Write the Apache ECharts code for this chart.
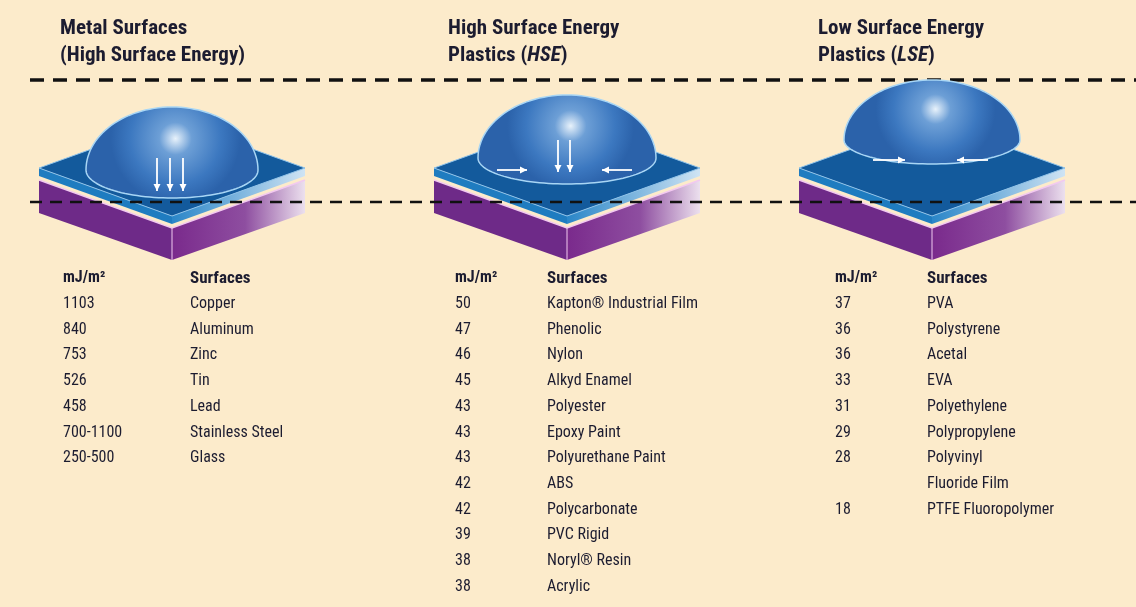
<!DOCTYPE html>
<html><head><meta charset="utf-8">
<script src="https://cdn.jsdelivr.net/npm/echarts@6/dist/echarts.min.js"></script>
<style>html,body{margin:0;padding:0;background:#fcebcb}#c{width:1136px;height:607px}</style>
</head><body><div id="c"></div>
<script>
const titles = [["Metal Surfaces","(High Surface Energy)"],["High Surface Energy","Plastics (HSE)"],["Low Surface Energy","Plastics (LSE)"]];
const metalValues = ["1103","840","753","526","458","700-1100","250-500"];
const metalSurfaces = ["Copper","Aluminum","Zinc","Tin","Lead","Stainless Steel","Glass"];
const hseValues = ["50","47","46","45","43","43","43","42","42","39","38","38"];
const hseSurfaces = ["Kapton® Industrial Film","Phenolic","Nylon","Alkyd Enamel","Polyester","Epoxy Paint","Polyurethane Paint","ABS","Polycarbonate","PVC Rigid","Noryl® Resin","Acrylic"];
const lseValues = ["37","36","36","33","31","29","28","","18"];
const lseSurfaces = ["PVA","Polystyrene","Acetal","EVA","Polyethylene","Polypropylene","Polyvinyl","Fluoride Film","PTFE Fluoropolymer"];

const F = "'Liberation Sans Narrow','Roboto Condensed','Liberation Sans',sans-serif";
const ink = '#1c1c30';
const g = [];
g.push({type:'line',shape:{x1:30,y1:80,x2:1136,y2:80},style:{stroke:'#111',lineWidth:3.5,lineDash:[14,9]}});
const panels = [
 {cx:172, tx:60, vx:63, sx:190, vals:metalValues, surf:metalSurfaces, domeRx:86, domeTop:107, baseY:170, baseRy:28},
 {cx:567, tx:448, vx:455, sx:547, vals:hseValues, surf:hseSurfaces, domeRx:89, domeTop:95, baseY:158, baseRy:26},
 {cx:932, tx:818, vx:835, sx:927, vals:lseValues, surf:lseSurfaces, domeRx:88, domeTop:80, baseY:140, baseRy:24}
];
panels.forEach((p,i)=>{
  const c=p.cx, L=c-133, R=c+133;
  g.push({type:'polygon',shape:{points:[[L,180],[c,228],[c,260],[L,213]]},style:{fill:'#6e2a88'}});
  g.push({type:'polygon',shape:{points:[[c,228],[R,180],[R,213],[c,260]]},style:{fill:{type:'linear',x:0,y:0,x2:1,y2:0,colorStops:[{offset:0,color:'#7a2a8c'},{offset:0.55,color:'#8e4ea0'},{offset:1,color:'#ece0ee'}]}}});
  g.push({type:'polyline',shape:{points:[[L,180],[c,228],[R,180]]},style:{stroke:'#f2c9f0',lineWidth:1.5,fill:null}});
  g.push({type:'line',shape:{x1:c,y1:228,x2:c,y2:260},style:{stroke:'#f2c9f0',lineWidth:1}});
  g.push({type:'polygon',shape:{points:[[L,168],[c,216],[c,224],[L,176]]},style:{fill:'#1f7cc0'}});
  g.push({type:'polygon',shape:{points:[[c,216],[R,168],[R,176],[c,224]]},style:{fill:{type:'linear',x:0,y:0,x2:1,y2:0,colorStops:[{offset:0,color:'#2a86c8'},{offset:1,color:'#cfe4f4'}]}}});
  g.push({type:'polygon',shape:{points:[[L,168],[c,120],[R,168],[c,216]]},style:{fill:'#135a9c',stroke:'#8fc3ea',lineWidth:1}});
  const rx=p.domeRx, by=p.baseY, up=by-p.domeTop, ry=p.baseRy;
  const pts=[];
  for(let k=0;k<=180;k+=3){const t=Math.PI*k/180; pts.push([c-rx*Math.cos(t), by-up*Math.sin(t)]);}
  for(let k=3;k<180;k+=3){const t=Math.PI*k/180; pts.push([c+rx*Math.cos(t), by+ry*Math.sin(t)]);}
  g.push({type:'polygon',shape:{points:pts},style:{fill:{type:'radial',x:0.52,y:0.35,r:0.7,colorStops:[{offset:0,color:'#e8f2fb'},{offset:0.25,color:'#6d9fd6'},{offset:0.7,color:'#3c78c0'},{offset:1,color:'#2b62aa'}]},stroke:'#a8d6f5',lineWidth:1.5}});
  g.push({type:'text',x:p.tx,y:18,style:{text:titles[i][0],font:`bold 21px ${F}`,fill:ink}});
  if(i===0){
    g.push({type:'text',x:p.tx,y:45,style:{text:titles[i][1],font:`bold 21px ${F}`,fill:ink}});
  } else {
    const t=i===1?'HSE':'LSE';
    g.push({type:'text',x:p.tx,y:45,style:{text:`{b|Plastics (}{i|${t}}{b|)}`,rich:{b:{fontFamily:F,fontWeight:'bold',fontSize:21,fill:ink},i:{fontFamily:F,fontWeight:'bold',fontStyle:'italic',fontSize:21,fill:ink}},fill:ink}});
  }
  g.push({type:'text',x:p.vx,y:270,style:{text:'mJ/m²',font:`bold 16px ${F}`,fill:ink}});
  g.push({type:'text',x:p.sx,y:270,style:{text:'Surfaces',font:`bold 17px ${F}`,fill:ink}});
  p.vals.forEach((v,k)=>{
    const y=296+k*25.7;
    g.push({type:'text',x:p.vx,y:y,style:{text:v,font:`16px ${F}`,fill:ink}});
    g.push({type:'text',x:p.sx,y:y,style:{text:p.surf[k],font:`16px ${F}`,fill:ink}});
  });
});
function arrow(x1,y1,x2,y2){
  const a=Math.atan2(y2-y1,x2-x1), h=7;
  g.push({type:'line',shape:{x1,y1,x2,y2},style:{stroke:'#fff',lineWidth:1.8}});
  g.push({type:'polygon',shape:{points:[[x2,y2],[x2-h*Math.cos(a)+3.5*Math.sin(a),y2-h*Math.sin(a)-3.5*Math.cos(a)],[x2-h*Math.cos(a)-3.5*Math.sin(a),y2-h*Math.sin(a)+3.5*Math.cos(a)]]},style:{fill:'#fff'}});
}
[157,170,183].forEach(x=>arrow(x,158,x,191));
[558,570].forEach(x=>arrow(x,140,x,172));
arrow(497,170,527,170); arrow(632,170,602,170);
arrow(873,160,905,160); arrow(988,160,957,160);
g.push({type:'line',shape:{x1:30,y1:202,x2:1136,y2:202},style:{stroke:'#111',lineWidth:2.5,lineDash:[12,8]}});
const chart=echarts.init(document.getElementById('c'));
chart.setOption({backgroundColor:'#fcebcb',graphic:{elements:g}});
</script></body></html>
